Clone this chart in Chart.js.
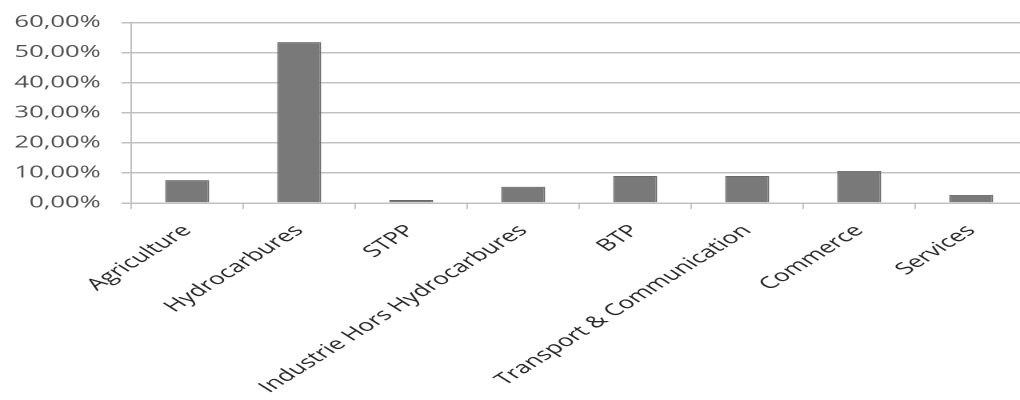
<!DOCTYPE html>
<html>
<head>
<meta charset="utf-8">
<script src="https://cdn.jsdelivr.net/npm/chart.js@4"></script>
<style>
  html, body { margin: 0; padding: 0; background: #fff; overflow: hidden; }
  #wrap { width: 1020px; height: 400px; overflow: hidden; position: relative; }
  /* the chart is laid out narrow and widened horizontally */
  #stretch { position: absolute; left: 0; top: 0; width: 648px; height: 400px;
             transform: scaleX(1.6); transform-origin: 0 0; }
</style>
</head>
<body>
<div id="wrap"><div id="stretch"><canvas id="c" width="648" height="400"></canvas></div></div>
<script>
// Sectors and their share (in %)
const sectors = [
  'Agriculture',
  'Hydrocarbures',
  'STPP',
  'Industrie Hors Hydrocarbures',
  'BTP',
  'Transport & Communication',
  'Commerce',
  'Services'
];
const shares = [7.6, 53.5, 1.0, 5.4, 9.0, 9.0, 10.7, 2.7];

// Value axis range
const yMin = 0;
const yMax = 60;
const yStep = 10;

const fmtPct = v => v.toFixed(2).replace('.', ',') + '%';

new Chart(document.getElementById('c'), {
  type: 'bar',
  data: {
    labels: sectors,
    datasets: [{
      data: shares,
      backgroundColor: '#797979',
      borderColor: '#686868',
      borderWidth: 1,
      categoryPercentage: 1,
      barPercentage: 0.393
    }]
  },
  options: {
    responsive: false,
    animation: false,
    devicePixelRatio: 2,
    layout: { padding: { top: 22, right: 6, bottom: 0, left: 0 } },
    plugins: { legend: { display: false }, tooltip: { enabled: false } },
    scales: {
      x: {
        offset: true,
        grid: {
          offset: true,
          drawOnChartArea: false,
          drawTicks: true,
          tickLength: 6,
          color: '#c4c4c4',
          lineWidth: 1
        },
        border: { color: '#c0c0c0', width: 1.5 },
        ticks: {
          minRotation: 45,
          maxRotation: 45,
          autoSkip: false,
          padding: 12,
          color: '#262626',
          font: { family: '"Open Sans", sans-serif', size: 16.5 }
        },
        afterFit: s => { s.height = 197; }
      },
      y: {
        min: yMin,
        max: yMax,
        grid: {
          color: '#c0c0c0',
          lineWidth: 1.5,
          tickLength: 6
        },
        border: { color: '#c0c0c0', width: 1 },
        ticks: {
          stepSize: yStep,
          padding: 13,
          color: '#4f4f4f',
          font: { family: '"Open Sans", sans-serif', size: 16 },
          callback: v => fmtPct(v)
        },
        afterFit: s => { s.width = 82; }
      }
    }
  }
});
</script>
</body>
</html>
